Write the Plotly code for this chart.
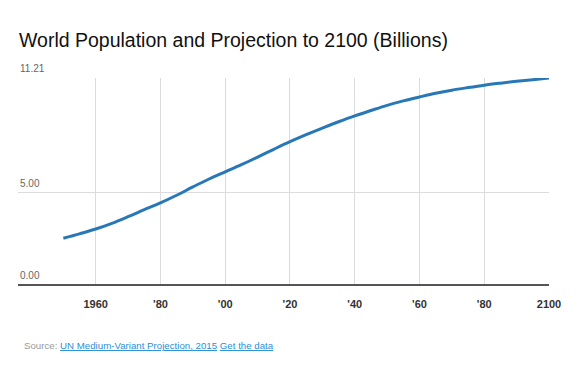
import plotly.graph_objects as go

years = list(range(1950, 2101, 5))
population = [2.53, 2.77, 3.03, 3.34, 3.70, 4.08, 4.45, 4.86, 5.31, 5.74, 6.13,
              6.52, 6.93, 7.35, 7.76, 8.14, 8.50, 8.84, 9.16, 9.45, 9.73, 9.97,
              10.18, 10.38, 10.55, 10.69, 10.82, 10.93, 11.03, 11.12, 11.21]
x_tickvals = [1960, 1980, 2000, 2020, 2040, 2060, 2080, 2100]
x_ticktext = ["1960", "'80", "'00", "'20", "'40", "'60", "'80", "2100"]
y_tickvals = [0, 5, 11.21]
y_ticktext = ["0.00", "5.00", "11.21"]

FONT = "Liberation Sans, Arial, sans-serif"

fig = go.Figure()
fig.add_trace(go.Scatter(
    x=years, y=population, mode="lines",
    line=dict(color="#2878b8", width=3, shape="spline"),
    hoverinfo="x+y", showlegend=False,
))

annotations = []
for v, t in zip(y_tickvals, y_ticktext):
    annotations.append(dict(
        xref="paper", yref="y", x=0, y=v, xanchor="left", yanchor="bottom",
        yshift=2, showarrow=False, text=t,
        font=dict(family=FONT, size=10, color="#666"),
    ))
annotations.append(dict(
    xref="paper", yref="paper", x=(22 - 18) / 531, y=-(345 - 285) / 207,
    xanchor="left", yanchor="middle", showarrow=False,
    font=dict(family=FONT, size=9.7, color="#999"),
    text=("Source: "
          "<a href='https://esa.un.org/unpd/wpp/' style='color:#2a8fd8;text-decoration:underline'>UN Medium-Variant Projection, 2015</a> "
          "<a href='https://esa.un.org/unpd/wpp/' style='color:#2a8fd8;text-decoration:underline'>Get the data</a>"),
))

fig.update_layout(
    width=580, height=372,
    margin=dict(l=18, r=31, t=78, b=87),
    paper_bgcolor="white", plot_bgcolor="white",
    font=dict(family=FONT),
    title=dict(
        text="World Population and Projection to 2100 (Billions)",
        font=dict(family=FONT, size=19.5, color="#111"),
        x=19 / 580, xref="container", xanchor="left",
        y=1 - 40 / 372, yref="container", yanchor="middle",
    ),
    xaxis=dict(
        range=[1936, 2100],
        tickvals=x_tickvals, ticktext=x_ticktext,
        tickfont=dict(family=FONT, size=11, color="#333", weight="bold"),
        showgrid=True, gridcolor="#dcdcdc", gridwidth=1,
        zeroline=False, showline=False,
        ticks="outside", ticklen=9, tickcolor="rgba(0,0,0,0)",
        fixedrange=True,
    ),
    yaxis=dict(
        range=[0, 11.21],
        tickvals=y_tickvals, showticklabels=False,
        showgrid=True, gridcolor="#dcdcdc", gridwidth=1,
        zeroline=True, zerolinecolor="#555", zerolinewidth=2,
        showline=False, fixedrange=True,
    ),
    annotations=annotations,
)

fig.write_html("out.html", config={"displayModeBar": False},
               post_script="document.body.style.margin='0';")
